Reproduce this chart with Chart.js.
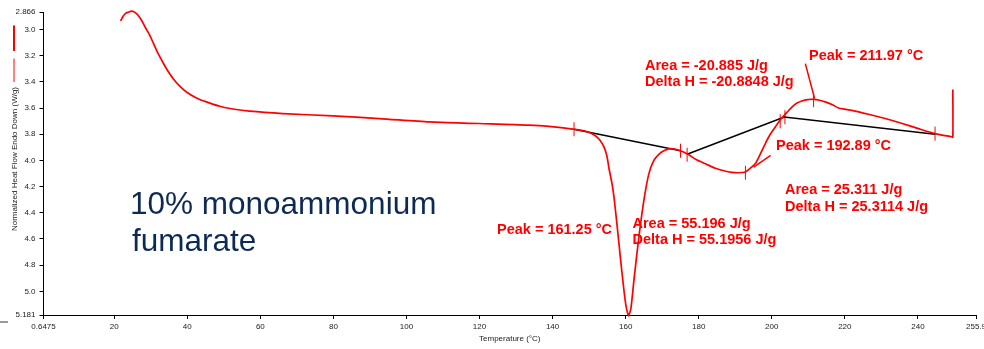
<!DOCTYPE html>
<html>
<head>
<meta charset="utf-8">
<script src="https://cdn.jsdelivr.net/npm/chart.js@4.4.1/dist/chart.umd.min.js"></script>
<style>
html, body { margin: 0; padding: 0; background: #fff; overflow: hidden; }
#wrap { width: 984px; height: 349px; position: relative; }
</style>
</head>
<body>
<div id="wrap"><canvas id="chart" width="984" height="349"></canvas></div>
<script>
// DSC trace, normalized heat flow in W/g (endo down -> y axis reversed)
var temperature = [21.74, 22.45, 23.19, 23.82, 24.75, 25.51, 26.11, 26.74, 27.48, 28.65,
    29.75, 30.84, 32.01, 33.30, 34.39, 36.11, 37.94, 39.77, 42.51, 45.24,
    48.87, 52.50, 57.07, 66.17, 79.83, 92.59, 106.25, 119.91, 133.57, 141.77,
    145.87, 148.60, 150.51, 151.88, 152.97, 154.06, 154.88, 155.43, 156.25, 156.80,
    157.70, 158.63, 159.53, 160.07, 160.62, 160.85, 161.44, 162.26, 163.62, 164.99,
    166.36, 167.72, 169.09, 170.46, 172.29, 175.02, 177.29, 179.12, 181.85, 184.58,
    186.85, 189.12, 190.95, 192.78, 193.95, 195.51, 196.69, 198.24, 199.42, 200.98,
    202.34, 203.43, 205.51, 206.80, 208.24, 209.80, 211.44, 213.08, 214.64, 216.63,
    218.27, 219.91, 221.91, 226.47, 231.03, 235.48, 240.13, 242.86, 244.69, 246.96,
    249.23, 249.56, 249.56];
var heatFlow = [2.934, 2.898, 2.875, 2.868, 2.860, 2.866, 2.878, 2.898, 2.929, 2.990,
    3.044, 3.112, 3.183, 3.250, 3.303, 3.374, 3.433, 3.477, 3.523, 3.553,
    3.586, 3.607, 3.624, 3.642, 3.660, 3.680, 3.706, 3.718, 3.731, 3.747,
    3.762, 3.773, 3.793, 3.815, 3.846, 3.897, 3.968, 4.060, 4.175, 4.279,
    4.509, 4.763, 4.992, 5.107, 5.176, 5.183, 5.130, 4.916, 4.585, 4.305,
    4.101, 3.999, 3.953, 3.926, 3.910, 3.926, 3.957, 3.991, 4.026, 4.060,
    4.079, 4.091, 4.094, 4.088, 4.064, 4.024, 3.961, 3.871, 3.808, 3.744,
    3.689, 3.655, 3.592, 3.563, 3.546, 3.535, 3.533, 3.540, 3.553, 3.575,
    3.599, 3.608, 3.617, 3.647, 3.680, 3.716, 3.757, 3.781, 3.795, 3.808,
    3.819, 3.823, 3.459];

// integration baselines (null = break)
var baseT = [145.87, 175.02, null, 176.82, 203.43, 244.69];
var baseH = [3.762, 3.926, null, 3.953, 3.668, 3.800];

// leader lines of the peak labels
var leadT = [209.18, 211.72, null, 199.69, 195.05];
var leadH = [3.260, 3.527, null, 3.961, 4.052];

// small vertical markers on the curve
var markT = [145.87, 175.02, 176.82, 192.78, 202.3, 203.6, 211.44, 244.69];
var markH = [3.762, 3.926, 3.957, 4.094, 3.701, 3.670, 3.540, 3.795];

var xTicks = [0.6475, 20, 40, 60, 80, 100, 120, 140, 160, 180, 200, 220, 240, 255.9];
var xTickLabels = ['0.6475', '20', '40', '60', '80', '100', '120', '140', '160', '180', '200', '220', '240', '255.9'];
var yTicks = [2.866, 3.0, 3.2, 3.4, 3.6, 3.8, 4.0, 4.2, 4.4, 4.6, 4.8, 5.0, 5.181];
var yTickLabels = ['2.866', '3.0', '3.2', '3.4', '3.6', '3.8', '4.0', '4.2', '4.4', '4.6', '4.8', '5.0', '5.181'];

var notes = [
    { text: 'Area = -20.885 J/g', x: 645, y: 69.5 },
    { text: 'Delta H = -20.8848 J/g', x: 645, y: 86 },
    { text: 'Peak = 211.97 \u00B0C', x: 809, y: 60 },
    { text: 'Peak = 192.89 \u00B0C', x: 776, y: 150 },
    { text: 'Area = 25.311 J/g', x: 785, y: 193.5 },
    { text: 'Delta H = 25.3114 J/g', x: 785, y: 210.5 },
    { text: 'Area = 55.196 J/g', x: 632.5, y: 227.5 },
    { text: 'Delta H = 55.1956 J/g', x: 632.5, y: 243.5 },
    { text: 'Peak = 161.25 \u00B0C', x: 497, y: 233.5 }
];
var title = ['10% monoammonium', 'fumarate'];

function pts(xs, ys) {
    var out = [];
    for (let i = 0; i < xs.length; i++) {
        if (xs[i] === null) out.push({ x: xs[i - 1], y: null });
        else out.push({ x: xs[i], y: ys[i] });
    }
    return out;
}

var FONT = "'Liberation Sans', Arial, sans-serif";

var decor = {
    id: 'decor',
    afterDraw: function(chart) {
        var ctx = chart.ctx;
        var a = chart.chartArea;
        ctx.save();
        // legend stub lines at top left
        ctx.strokeStyle = '#ff0000';
        ctx.lineWidth = 2;
        ctx.beginPath(); ctx.moveTo(14, 25.5); ctx.lineTo(14, 51); ctx.stroke();
        ctx.lineWidth = 1;
        ctx.beginPath(); ctx.moveTo(14, 58.5); ctx.lineTo(14, 82); ctx.stroke();
        ctx.strokeStyle = '#777';
        ctx.lineWidth = 1.5;
        ctx.beginPath(); ctx.moveTo(0, 322); ctx.lineTo(8, 322); ctx.stroke();

        // axis titles
        ctx.fillStyle = '#222';
        ctx.font = '8px ' + FONT;
        ctx.textAlign = 'center';
        ctx.textBaseline = 'middle';
        ctx.fillText('Temperature (\u00B0C)', (a.left + a.right) / 2, 338.5);
        ctx.save();
        ctx.translate(14.5, 159);
        ctx.rotate(-Math.PI / 2);
        ctx.fillText('Normalized Heat Flow Endo Down (W/g)', 0, 0);
        ctx.restore();

        // red annotations
        ctx.fillStyle = '#ff0000';
        ctx.font = 'bold 14.5px ' + FONT;
        ctx.textAlign = 'left';
        ctx.textBaseline = 'alphabetic';
        notes.forEach(function(n) { ctx.fillText(n.text, n.x, n.y); });

        // sample name
        ctx.fillStyle = '#0d2a55';
        ctx.font = '31.5px ' + FONT;
        ctx.fillText(title[0], 130, 213.5);
        ctx.fillText(title[1], 132, 251);
        ctx.restore();
    }
};

var ctx = document.getElementById('chart').getContext('2d');
var chart = new Chart(ctx, {
    type: 'line',
    data: {
        datasets: [{
            data: pts(temperature, heatFlow),
            borderColor: '#ff0000',
            borderWidth: 1.7,
            pointRadius: 0,
            tension: 0.25,
            fill: false,
            clip: false
        }, {
            data: pts(baseT, baseH),
            borderColor: '#000000',
            borderWidth: 1.5,
            pointRadius: 0,
            spanGaps: false,
            fill: false
        }, {
            data: pts(leadT, leadH),
            borderColor: '#ff0000',
            borderWidth: 1.5,
            pointRadius: 0,
            spanGaps: false,
            fill: false
        }, {
            type: 'scatter',
            data: pts(markT, markH),
            showLine: false,
            pointStyle: 'line',
            rotation: 90,
            radius: 7,
            borderColor: '#ff0000',
            borderWidth: 1
        }]
    },
    options: {
        responsive: false,
        animation: false,
        events: [],
        layout: { padding: { left: 0, right: 7, top: 12, bottom: 0 } },
        plugins: {
            legend: { display: false },
            tooltip: { enabled: false }
        },
        scales: {
            x: {
                type: 'linear',
                min: 0.6475,
                max: 255.9,
                afterBuildTicks: function(s) { s.ticks = xTicks.map(function(v) { return { value: v }; }); },
                afterFit: function(s) { s.height = 34; s.paddingLeft = 0; s.paddingRight = 0; },
                ticks: {
                    autoSkip: false, maxRotation: 0, minRotation: 0, padding: 3,
                    color: '#222', font: { family: FONT, size: 8 },
                    callback: function(v, i) { return xTickLabels[i]; }
                },
                grid: { drawOnChartArea: false, drawTicks: true, tickLength: 4, color: '#000' },
                border: { color: '#000', width: 1 }
            },
            y: {
                type: 'linear',
                reverse: true,
                min: 2.866,
                max: 5.181,
                afterBuildTicks: function(s) { s.ticks = yTicks.map(function(v) { return { value: v }; }); },
                afterFit: function(s) { s.width = 43.5; s.paddingTop = 0; s.paddingBottom = 0; },
                ticks: {
                    autoSkip: false, padding: 4,
                    color: '#222', font: { family: FONT, size: 8 },
                    callback: function(v, i) { return yTickLabels[i]; }
                },
                grid: { drawOnChartArea: false, drawTicks: true, tickLength: 4, color: '#000' },
                border: { color: '#000', width: 1 }
            }
        }
    },
    plugins: [decor]
});
</script>
</body>
</html>
